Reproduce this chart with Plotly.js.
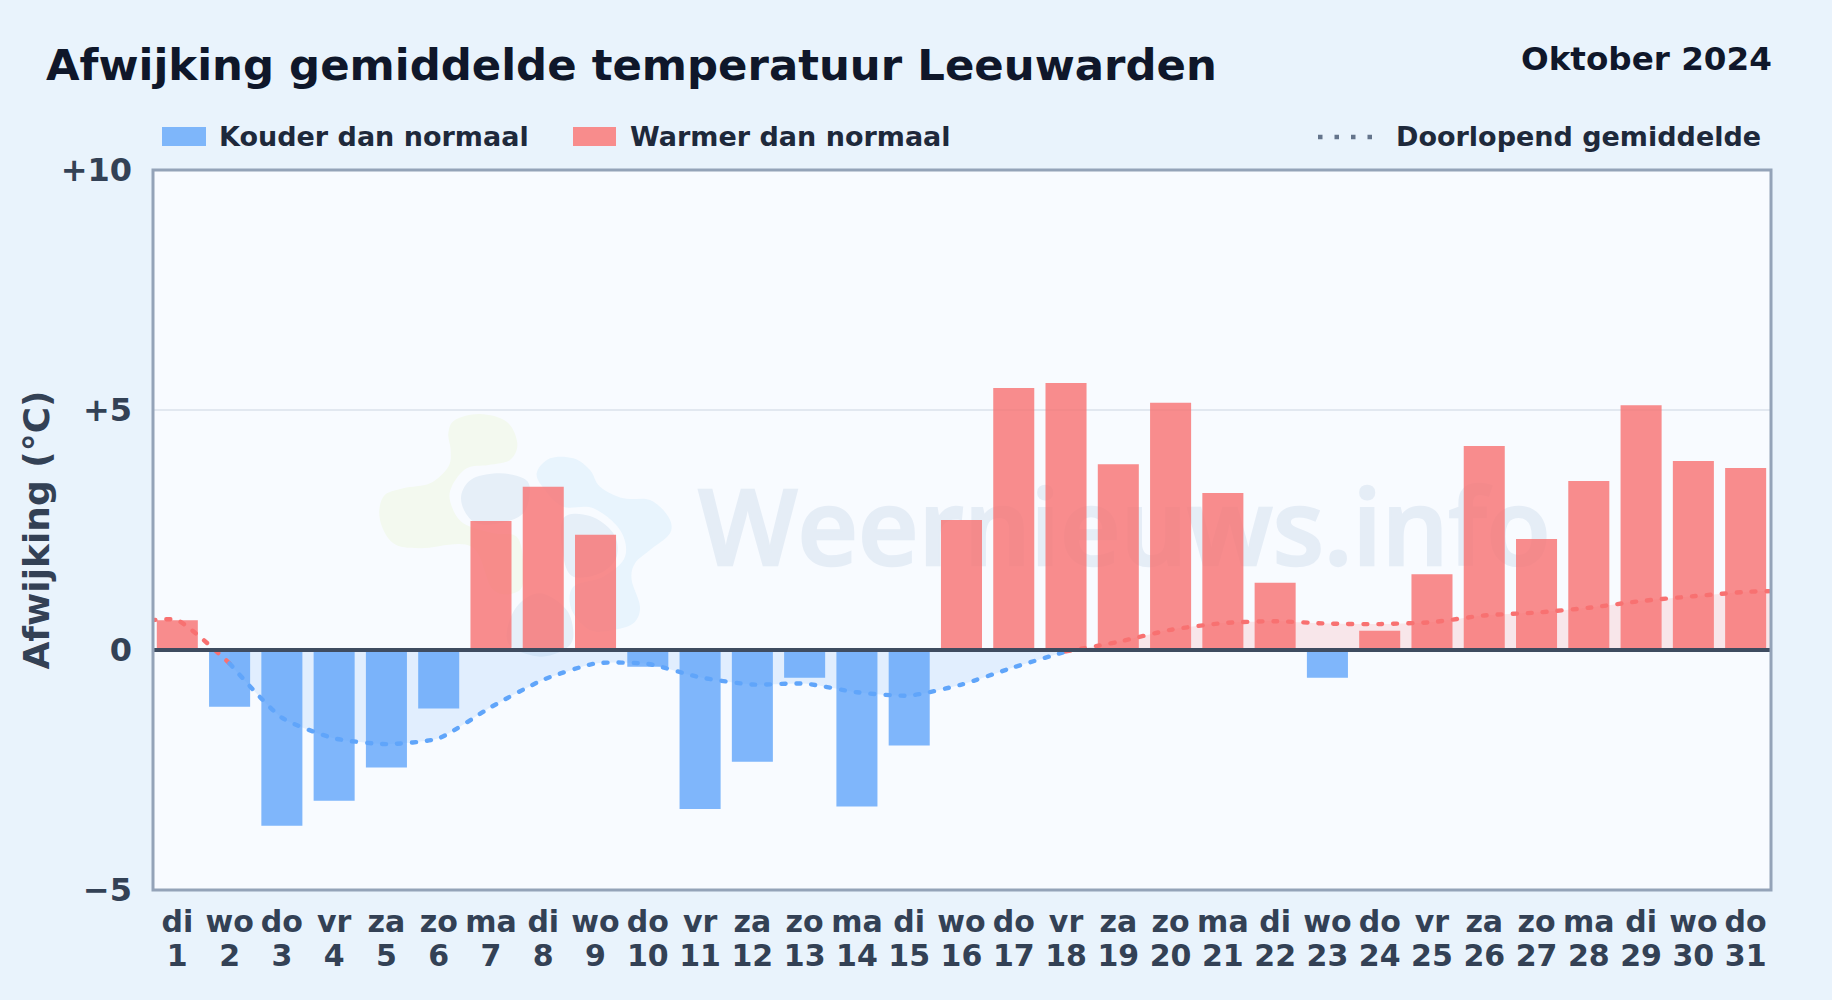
<!DOCTYPE html>
<html><head><meta charset="utf-8">
<script src="https://cdn.plot.ly/plotly-3.0.1.min.js"></script>
<style>html,body{margin:0;padding:0;background:#e9f3fc}#chart{width:1832px;height:1000px}#chart .js-line{stroke-linecap:round}#chart .shape-label{stroke:#608cbe;stroke-width:2.4px;opacity:.12}</style>
</head><body><div id="chart"></div>
<script>
const days = [1,2,3,4,5,6,7,8,9,10,11,12,13,14,15,16,17,18,19,20,21,22,23,24,25,26,27,28,29,30,31];
const weekdays = ['di','wo','do','vr','za','zo','ma','di','wo','do','vr','za','zo','ma','di','wo','do','vr','za','zo','ma','di','wo','do','vr','za','zo','ma','di','wo','do'];
const coldValues = [null,-1.18,-3.66,-3.14,-2.45,-1.22,null,null,null,-0.35,-3.31,-2.33,-0.58,-3.26,-1.99,null,null,null,null,null,null,null,-0.58,null,null,null,null,null,null,null,null];
const warmValues = [0.62,null,null,null,null,null,2.69,3.40,2.40,null,null,null,null,null,null,2.71,5.46,5.56,3.87,5.15,3.27,1.40,null,0.40,1.58,4.25,2.31,3.52,5.10,3.94,3.79];
const warmMeanStartX = [0.5,1,2];
const warmMeanStart = [0.62,0.62,-0.28];
const coldMeanX = [2,3,4,5,6,7,8,9,10,11,12,13,14,15,16,17,18];
const coldMean = [-0.28,-1.41,-1.84,-1.96,-1.84,-1.19,-0.62,-0.28,-0.29,-0.57,-0.72,-0.70,-0.88,-0.95,-0.72,-0.36,-0.03];
const warmMeanEndX = [18,19,20,21,22,23,24,25,26,27,28,29,30,31,31.6];
const warmMeanEnd = [-0.03,0.17,0.42,0.56,0.60,0.55,0.54,0.58,0.72,0.78,0.88,1.02,1.12,1.21,1.23];
const yTicks = [-5,0,5,10];
const yTickLabels = ['−5','0','+5','+10'];

const FONT = '"DejaVu Sans", sans-serif';
const INK = '#334155', DARK = '#0f172a', LEG = '#1e293b';
const BLUE = '#60a5fa', RED = '#f87171';
const L=153,R=1771,T=170,B=890;
const xRange=[0.535,31.485];

function px(x,y){return [(x-L)/(R-L),(B-y)/(B-T)];}
function blob(points){
  const p=points.map(q=>[360+q[0]/3,390+q[1]/3]);
  const n=p.length; let d='';
  for(let i=0;i<n;i++){
    const a=p[(i-1+n)%n],b=p[i],c=p[(i+1)%n],e=p[(i+2)%n];
    const c1=px(b[0]+(c[0]-a[0])/6,b[1]+(c[1]-a[1])/6);
    const c2=px(c[0]-(e[0]-b[0])/6,c[1]-(e[1]-b[1])/6);
    const end=px(c[0],c[1]);
    if(i===0){const s=px(b[0],b[1]);d+='M'+s[0]+','+s[1];}
    d+=' C'+c1[0]+','+c1[1]+' '+c2[0]+','+c2[1]+' '+end[0]+','+end[1];
  }
  return d+' Z';
}
const logoGreen=[[265,130],[285,90],[360,72],[440,95],[472,160],[450,210],[385,225],[320,235],[275,290],[272,340],[310,400],[400,430],[470,440],[490,520],[480,600],[400,600],[335,470],[180,475],[100,460],[60,390],[70,320],[130,295],[210,280],[265,230],[272,180]];
const logoBlue=[[530,250],[570,205],[640,205],[690,240],[720,290],[790,325],[870,330],[925,380],[930,430],[870,480],[825,520],[815,570],[840,650],[820,700],[760,720],[690,720],[635,660],[640,590],[730,560],[795,500],[780,420],[700,355],[610,350],[555,300]];
const logoGrey1=[[305,310],[340,265],[420,250],[490,265],[510,300],[490,370],[420,400],[350,400],[312,360]];
const logoGrey2=[[610,385],[690,378],[760,430],[770,500],[720,550],[640,560],[610,500]];
const logoGrey3=[[440,730],[470,650],[540,610],[620,660],[640,740],[610,780],[540,800],[460,775]];
function logoShape(points,color){return {type:'path',xref:'paper',yref:'paper',layer:'below',path:blob(points),fillcolor:color,line:{width:0}};}

const lineTrace=(x,y,color)=>({type:'scatter',mode:'lines',x,y,xaxis:'x2',yaxis:'y',hoverinfo:'skip',showlegend:false,
  line:{color,width:4.4,dash:'4px,11px',shape:'spline',smoothing:0.6}});
const fillTrace=(x,y,color)=>({type:'scatter',mode:'none',x,y,xaxis:'x2',yaxis:'y',hoverinfo:'skip',showlegend:false,
  fill:'tozeroy',fillcolor:color,line:{shape:'spline',smoothing:0.6}});

const traces=[
 {type:'bar',x:days,y:coldValues,width:0.785,marker:{color:BLUE,opacity:0.8,line:{width:0}},name:'Kouder dan normaal',showlegend:false},
 {type:'bar',x:days,y:warmValues,width:0.785,marker:{color:RED,opacity:0.8,line:{width:0}},name:'Warmer dan normaal',showlegend:false},
 fillTrace(coldMeanX,coldMean,'rgba(96,165,250,0.15)'),
 fillTrace(warmMeanEndX,warmMeanEnd,'rgba(248,113,113,0.15)'),
 lineTrace(warmMeanStartX,warmMeanStart,RED),
 lineTrace(coldMeanX,coldMean,BLUE),
 lineTrace(warmMeanEndX,warmMeanEnd,RED)
];

const legText=(text,x,anchor)=>({xref:'paper',yref:'paper',x:(x-L)/(R-L),y:(B-137)/(B-T),xanchor:anchor,yanchor:'middle',showarrow:false,text,font:{family:FONT,size:27,color:LEG}});
const pxX=x=>(x-L)/(R-L), pxY=y=>(B-y)/(B-T);

const layout={
 width:1832,height:1000,
 paper_bgcolor:'#e9f3fc',plot_bgcolor:'#f8fbff',
 margin:{l:L,r:1832-R,t:T,b:1000-B,pad:0},
 barmode:'overlay',showlegend:false,
 font:{family:FONT},
 title:{text:'<b>Afwijking gemiddelde temperatuur Leeuwarden</b>',x:46/1832,xanchor:'left',xref:'container',y:1-65/1000,yref:'container',yanchor:'middle',font:{family:FONT,size:43.4,color:DARK}},
 xaxis:{range:xRange,tickmode:'array',tickvals:days,ticktext:weekdays,showgrid:false,zeroline:false,showline:false,ticks:'',ticklabelstandoff:11,tickfont:{family:FONT,size:30,color:INK,weight:700},tickangle:0,fixedrange:true},
 xaxis2:{overlaying:'x',anchor:'y',side:'bottom',range:xRange,tickmode:'array',tickvals:days,ticktext:days,showgrid:false,zeroline:false,showline:false,ticks:'',ticklabelstandoff:45,tickfont:{family:FONT,size:30,color:INK,weight:700},tickangle:0,fixedrange:true},
 yaxis:{range:[-5,10],tickmode:'array',tickvals:yTicks,ticktext:yTickLabels,showgrid:true,gridcolor:'#e2e8f0',gridwidth:1.7,zeroline:false,showline:false,ticks:'',ticklabelstandoff:20,tickfont:{family:FONT,size:32,color:INK,weight:700},fixedrange:true,
   title:{text:'<b>Afwijking (°C)</b>',standoff:0,font:{family:FONT,size:36,color:INK}}},
 shapes:[
  logoShape(logoGreen,'#f3f9ef'),
  logoShape(logoBlue,'#e8f4fd'),
  logoShape(logoGrey1,'#e6eff8'),
  logoShape(logoGrey2,'#e6eff8'),
  logoShape(logoGrey3,'#e6eff8'),
  {type:'rect',xref:'paper',yref:'paper',layer:'below',x0:pxX(701),x1:pxX(1548),y0:pxY(570),y1:pxY(492),line:{width:0},fillcolor:'rgba(0,0,0,0)',
   label:{text:'Weernieuws.info',textposition:'middle center',font:{family:'"Open Sans", sans-serif',weight:600,size:105,color:'#608cbe'}}},
  {type:'line',xref:'paper',yref:'y',layer:'above',x0:0,x1:1,y0:0,y1:0,line:{color:'#3f4c60',width:4}},
  {type:'rect',xref:'paper',yref:'paper',layer:'above',x0:0,x1:1,y0:0,y1:1,line:{color:'#94a3b8',width:3},fillcolor:'rgba(0,0,0,0)'},
  {type:'rect',xref:'paper',yref:'paper',x0:pxX(162),x1:pxX(206),y0:pxY(146),y1:pxY(127),line:{width:0},fillcolor:'#7eb6fa'},
  {type:'rect',xref:'paper',yref:'paper',x0:pxX(573),x1:pxX(616),y0:pxY(146),y1:pxY(127),line:{width:0},fillcolor:'#f88c8c'},
  {type:'line',xref:'paper',yref:'paper',x0:pxX(1318),x1:pxX(1376),y0:pxY(137),y1:pxY(137),line:{color:'#64748b',width:4.5,dash:'4.5px,12px'}}
 ],
 annotations:[
  {xref:'paper',yref:'paper',x:pxX(1774),y:pxY(59),xanchor:'right',yanchor:'middle',showarrow:false,text:'<b>Oktober 2024</b>',font:{family:FONT,size:32.6,color:DARK}},
  legText('<b>Kouder dan normaal</b>',217,'left'),
  legText('<b>Warmer dan normaal</b>',628,'left'),
  legText('<b>Doorlopend gemiddelde</b>',1763,'right')
 ]
};
Plotly.newPlot('chart',traces,layout,{displayModeBar:false,staticPlot:true});
</script></body></html>
